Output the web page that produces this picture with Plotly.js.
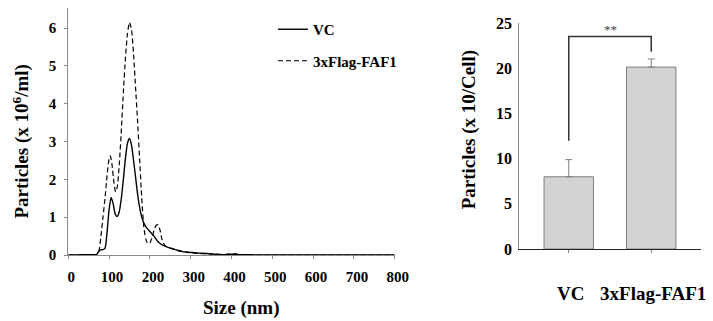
<!DOCTYPE html>
<html>
<head>
<meta charset="utf-8">
<script src="https://cdn.plot.ly/plotly-3.0.1.min.js"></script>
<style>
html,body{margin:0;padding:0;background:#fff;}
#chart{width:713px;height:321px;}
</style>
</head>
<body>
<div id="chart"></div>
<script>
// ---- Size distribution (left panel) ----
var vcSize = [0, 20, 40, 60, 70, 75, 80, 85, 90, 95, 100, 105, 110, 115, 120, 125, 130, 135, 140, 145, 150, 155, 160, 165, 170, 175, 180, 185, 190, 200, 210, 220, 230, 240, 250, 260, 270, 280, 290, 300, 320, 340, 360, 380, 400, 420, 450, 500, 600, 700, 800];
var vcConc = [0, 0, 0.01, 0.01, 0.02, 0.1, 0.14, 0.14, 0.18, 0.6, 1.2, 1.52, 1.35, 1.08, 1.02, 1.15, 1.5, 2.0, 2.55, 2.95, 3.08, 2.9, 2.5, 2.05, 1.6, 1.25, 1.0, 0.85, 0.75, 0.62, 0.5, 0.35, 0.27, 0.22, 0.18, 0.15, 0.12, 0.09, 0.08, 0.07, 0.05, 0.04, 0.02, 0.01, 0.02, 0.01, 0.005, 0, 0, 0, 0];

var flagSize = [0, 40, 70, 75, 80, 85, 90, 95, 100, 103, 107, 112, 116, 120, 125, 130, 135, 140, 145, 150, 155, 160, 165, 170, 175, 180, 185, 190, 195, 200, 205, 210, 215, 220, 225, 230, 235, 240, 250, 260, 270, 280, 290, 300, 320, 340, 360, 380, 395, 400, 410, 420, 450, 600, 800];
var flagConc = [0, 0, 0.01, 0.1, 0.5, 1.0, 1.5, 2.1, 2.55, 2.62, 2.4, 1.9, 1.67, 1.8, 2.4, 3.3, 4.3, 5.2, 5.85, 6.15, 5.95, 5.3, 4.4, 3.5, 2.5, 1.5, 0.75, 0.42, 0.3, 0.32, 0.45, 0.65, 0.78, 0.8, 0.65, 0.4, 0.28, 0.22, 0.18, 0.15, 0.11, 0.09, 0.07, 0.06, 0.04, 0.03, 0.02, 0.01, 0.03, 0.02, 0.03, 0.01, 0, 0, 0];

var sizeTicks = [0, 100, 200, 300, 400, 500, 600, 700, 800];
var concTicks = [0, 1, 2, 3, 4, 5, 6];

// ---- Particles per cell (right panel) ----
var groups = ['VC', '3xFlag-FAF1'];
var perCell = [8.0, 20.15];
var perCellErr = [1.9, 0.9];
var cellTicks = [0, 5, 10, 15, 20, 25];
var sigLabel = '**';
var bracketY = [12.0, 23.55, 23.55, 21.85];

var serif = 'Liberation Serif';
function b(v) { return '<b>' + v + '</b>'; }

var traces = [
  {x: vcSize, y: vcConc, type: 'scatter', mode: 'lines', name: b('VC'),
   line: {color: '#000', width: 1.4, shape: 'spline', smoothing: 0.6},
   xaxis: 'x', yaxis: 'y', legendgroup: 'a'},
  {x: flagSize, y: flagConc, type: 'scatter', mode: 'lines', name: b('3xFlag-FAF1'),
   line: {color: '#000', width: 1.2, dash: '5px,3px', shape: 'spline', smoothing: 0.6},
   xaxis: 'x', yaxis: 'y', legendgroup: 'b'},
  {x: groups, y: perCell, type: 'bar', showlegend: false,
   marker: {color: '#d3d3d3', line: {color: '#7f7f7f', width: 1}},
   error_y: {type: 'data', symmetric: false, array: perCellErr, arrayminus: [0, 0],
             color: '#7f7f7f', thickness: 1, width: 3.5},
   width: 0.6, xaxis: 'x2', yaxis: 'y2'},
  {x: [groups[0], groups[0], groups[1], groups[1]], y: bracketY, type: 'scatter', mode: 'lines',
   showlegend: false, line: {color: '#333', width: 1.5}, xaxis: 'x2', yaxis: 'y2', hoverinfo: 'skip'}
];

var layout = {
  width: 713, height: 321,
  margin: {l: 0, r: 0, t: 0, b: 0},
  paper_bgcolor: '#fff', plot_bgcolor: 'rgba(0,0,0,0)',
  font: {family: serif, color: '#000'},
  showlegend: true,
  legend: {x: 273/713, y: 1 - 13/321, xanchor: 'left', yanchor: 'top',
           font: {family: serif, size: 15, color: '#000'},
           traceorder: 'grouped', tracegroupgap: 9, bgcolor: 'rgba(0,0,0,0)'},
  xaxis: {domain: [68.3/713, 394.7/713], range: [0, 800],
          tickvals: sizeTicks, ticktext: sizeTicks.map(b),
          showgrid: false, zeroline: false, showline: true, linecolor: '#8a8a8a', linewidth: 1,
          ticks: 'outside', ticklen: 3, tickcolor: '#8a8a8a',
          tickfont: {family: serif, size: 15, color: '#000'}, ticklabelshift: 3, ticklabelstandoff: 5,
          anchor: 'y', automargin: false},
  yaxis: {domain: [(321-255)/321, (321-8)/321], range: [0, 6.53],
          tickvals: concTicks, ticktext: concTicks.map(b),
          showgrid: false, zeroline: false, showline: true, linecolor: '#8a8a8a', linewidth: 1,
          ticks: 'outside', ticklen: 3, tickcolor: '#8a8a8a',
          tickfont: {family: serif, size: 15, color: '#000'}, ticklabelstandoff: 5,
          anchor: 'x', automargin: false},
  xaxis2: {domain: [519.3/713, 700.7/713], range: [-0.6, 1.6], type: 'category',
           tickvals: groups, ticktext: groups.map(b),
           showgrid: false, zeroline: false, showline: true, linecolor: '#222', linewidth: 1.2,
           ticks: 'outside', ticklen: 3, tickcolor: '#8a8a8a',
           tickfont: {family: serif, size: 19, color: '#000'}, ticklabelshift: 2, ticklabelstandoff: 24,
           anchor: 'y2', automargin: false},
  yaxis2: {domain: [(321-249)/321, (321-23.3)/321], range: [0, 25],
           tickvals: cellTicks, ticktext: cellTicks.map(b),
           showgrid: false, zeroline: false, showline: true, linecolor: '#8a8a8a', linewidth: 1,
           ticks: '', tickfont: {family: serif, size: 16, color: '#000'}, ticklabelstandoff: 3,
           anchor: 'x2', automargin: false},
  annotations: [
    {text: b('Particles (x 10<sup>6</sup>/ml)'), textangle: -90, xref: 'paper', yref: 'paper',
     x: 20.5/713, y: 1 - 142/321, showarrow: false, xanchor: 'center', yanchor: 'middle',
     font: {family: serif, size: 19, color: '#000'}},
    {text: b('Size (nm)'), xref: 'paper', yref: 'paper', x: 241.7/713, y: 1 - 308/321,
     showarrow: false, xanchor: 'center', yanchor: 'middle',
     font: {family: serif, size: 19, color: '#000'}},
    {text: b('Particles (x 10/Cell)'), textangle: -90, xref: 'paper', yref: 'paper',
     x: 469.3/713, y: 1 - 130/321, showarrow: false, xanchor: 'center', yanchor: 'middle',
     font: {family: serif, size: 19, color: '#000'}},
    {text: sigLabel, xref: 'x2', yref: 'y2', x: 0.5, y: bracketY[1], yshift: 7,
     showarrow: false, xanchor: 'center', yanchor: 'middle',
     font: {family: serif, size: 13, color: '#444'}}
  ]
};

Plotly.newPlot('chart', traces, layout, {displayModeBar: false, staticPlot: true});
</script>
</body>
</html>
